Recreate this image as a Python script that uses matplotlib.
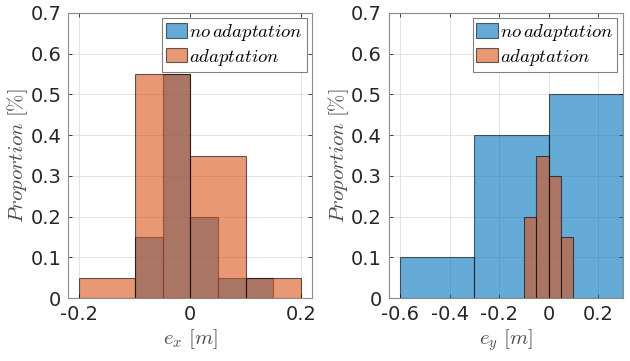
import matplotlib
matplotlib.use("Agg")
import matplotlib.pyplot as plt
import numpy as np

# left panel: e_x
ex_no_edges = [-0.1, -0.05, 0.0, 0.05, 0.1, 0.15]
ex_no_vals = [0.15, 0.55, 0.20, 0.05, 0.05]
ex_ad_edges = [-0.2, -0.1, 0.0, 0.1, 0.2]
ex_ad_vals = [0.05, 0.55, 0.35, 0.05]

# right panel: e_y
ey_no_edges = [-0.6, -0.3, 0.0, 0.3]
ey_no_vals = [0.10, 0.40, 0.50]
ey_ad_edges = [-0.1, -0.05, 0.0, 0.05, 0.1]
ey_ad_vals = [0.20, 0.35, 0.30, 0.15]

blue = (0.0, 0.447, 0.741)
orange = (0.85, 0.325, 0.098)
dark = (0.15, 0.15, 0.15)

plt.rcParams['mathtext.fontset'] = 'cm'
plt.rcParams['font.family'] = 'DejaVu Sans'

fig = plt.figure(figsize=(6.3, 3.61), dpi=100)
ax1 = fig.add_axes([0.1084, 0.1737, 0.3873, 0.7911])
ax2 = fig.add_axes([0.6175, 0.1737, 0.3714, 0.7911])


def draw(ax, no_edges, no_vals, ad_edges, ad_vals, xlim, xticks, xlabel):
    no_edges = np.array(no_edges)
    ad_edges = np.array(ad_edges)
    ax.bar(no_edges[:-1], no_vals, width=np.diff(no_edges), align='edge',
           color=blue, alpha=0.6, edgecolor=(0, 0, 0, 0.9), linewidth=0.8,
           label=r'$no\,adaptation$', zorder=2)
    ax.bar(ad_edges[:-1], ad_vals, width=np.diff(ad_edges), align='edge',
           color=orange, alpha=0.6, edgecolor=(0, 0, 0, 0.9), linewidth=0.8,
           label=r'$adaptation$', zorder=3)
    ax.set_xlim(*xlim)
    ax.set_ylim(0, 0.7)
    ax.set_xticks(xticks)
    ax.set_xticklabels([('%g' % t) for t in xticks])
    ax.set_yticks(np.arange(0, 0.71, 0.1))
    ax.set_yticklabels(['0'] + ['%.1f' % v for v in np.arange(0.1, 0.71, 0.1)])
    ax.grid(True, color=(0.87, 0.87, 0.87), linewidth=0.6, zorder=0)
    ax.set_axisbelow(True)
    ax.tick_params(direction='in', top=True, right=True, length=3,
                   labelsize=14, colors=dark, width=0.6, pad=5)
    for s in ax.spines.values():
        s.set_color((0.55, 0.55, 0.55))
        s.set_linewidth(0.8)
    ax.set_xlabel(xlabel, fontsize=15, color=(0.3, 0.3, 0.3), labelpad=2)
    ax.set_ylabel(r'$Proportion\ [\%]$', fontsize=15, color=(0.3, 0.3, 0.3),
                  labelpad=0)
    leg = ax.legend(loc='upper right', fontsize=13.5, fancybox=False,
                    framealpha=1, edgecolor=(0.5, 0.5, 0.5),
                    handlelength=1.15, handleheight=0.8, handletextpad=0.1,
                    borderpad=0.2, labelspacing=0.2, borderaxespad=0.3)
    leg.get_frame().set_linewidth(0.8)


draw(ax1, ex_no_edges, ex_no_vals, ex_ad_edges, ex_ad_vals,
     (-0.22, 0.22), [-0.2, 0, 0.2], r'$e_x\ [m]$')
draw(ax2, ey_no_edges, ey_no_vals, ey_ad_edges, ey_ad_vals,
     (-0.645, 0.3), [-0.6, -0.4, -0.2, 0, 0.2], r'$e_y\ [m]$')

fig.savefig('out.png', dpi=100)
